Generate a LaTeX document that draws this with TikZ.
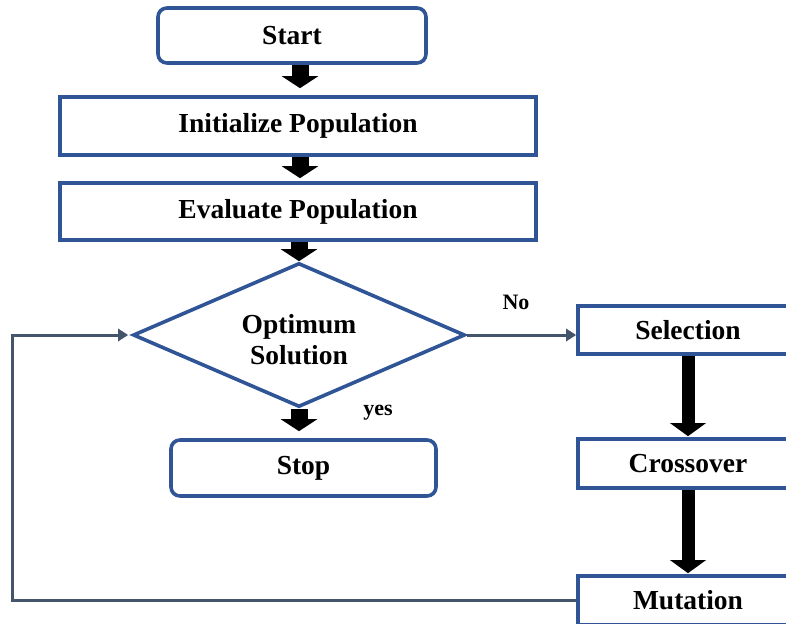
\documentclass[tikz,border=0pt]{standalone}
\usepackage{fontspec}
\setmainfont{Liberation Serif}
\usetikzlibrary{shapes.geometric,arrows.meta}
\definecolor{boxblue}{HTML}{2F5597}
\definecolor{linkgray}{HTML}{44546A}
\tikzset{
  box/.style={draw=boxblue, line width=3.6pt, fill=white, inner sep=0pt,
    font=\bfseries\fontsize{27.5}{31}\selectfont},
  roundbox/.style={box, rounded corners=9pt},
  decision/.style={diamond, draw=boxblue, line width=3.6pt, inner sep=0pt},
  txt/.style={font=\bfseries\fontsize{27.5}{31}\selectfont, align=center, inner sep=0pt},
  small/.style={font=\bfseries\fontsize{22}{26}\selectfont, inner sep=0pt},
  bigarrow/.style={draw=black, line width=17pt,
    -{Triangle[width=36pt,length=12pt]}},
  tallarrow/.style={draw=black, line width=13pt,
    -{Triangle[width=35pt,length=13pt]}},
  conn/.style={draw=linkgray, line width=3pt,
    -{Triangle[width=12pt,length=10pt]}},
}
\begin{document}
\begin{tikzpicture}[x=1pt,y=-1pt]
\useasboundingbox (0,0) rectangle (786,623);
\clip (0,0) rectangle (786,623);

% main column
\node[roundbox, minimum width=268pt, minimum height=55pt] (start) at (292,35.5) {Start};
\node[box, minimum width=476pt, minimum height=58pt] (init) at (298,126) {Initialize Population};
\node[box, minimum width=476pt, minimum height=57pt] (eval) at (298,211.5) {Evaluate Population};
\node[decision, minimum width=332pt, minimum height=144pt] (opt) at (299,335) {};
\node[txt] (opttxt) at (299,340) {Optimum\\Solution};
\node[roundbox, minimum width=265pt, minimum height=56pt] (stop) at (303.5,468) {Stop};

% operator column
\node[box, minimum width=220pt, minimum height=48pt] (sel) at (688,330) {Selection};
\node[box, minimum width=220pt, minimum height=49pt] (cross) at (688,463.5) {Crossover};
\node[box, minimum width=220pt, minimum height=49pt] (mut) at (688,600.5) {Mutation};

% thick flow arrows
\draw[bigarrow, shorten >=7pt] ([xshift=8pt]start.south) -- ([xshift=2pt]init.north);
\draw[bigarrow, shorten >=3pt] ([xshift=2pt]init.south) -- ([xshift=2pt]eval.north);
\draw[bigarrow] ([xshift=1pt]eval.south) -- (opt.north);
\draw[bigarrow, shorten >=7pt] (opt.south) -- (opt.south |- stop.north);
\draw[tallarrow, shorten >=1pt] (sel.south) -- (cross.north);
\draw[tallarrow, shorten >=1pt] (cross.south) -- (mut.north);

% decision branches
\draw[conn] (opt.east) -- (opt.east -| sel.west);
\node[small] (no) at (516,302) {No};
\node[small] (yes) at (378,413) {yes};

% loop back from mutation
\coordinate (loopx) at (12,0);
\draw[conn] (mut.west) -- (mut.west -| loopx) |- ([xshift=-3pt]opt.west);
\end{tikzpicture}
\end{document}
